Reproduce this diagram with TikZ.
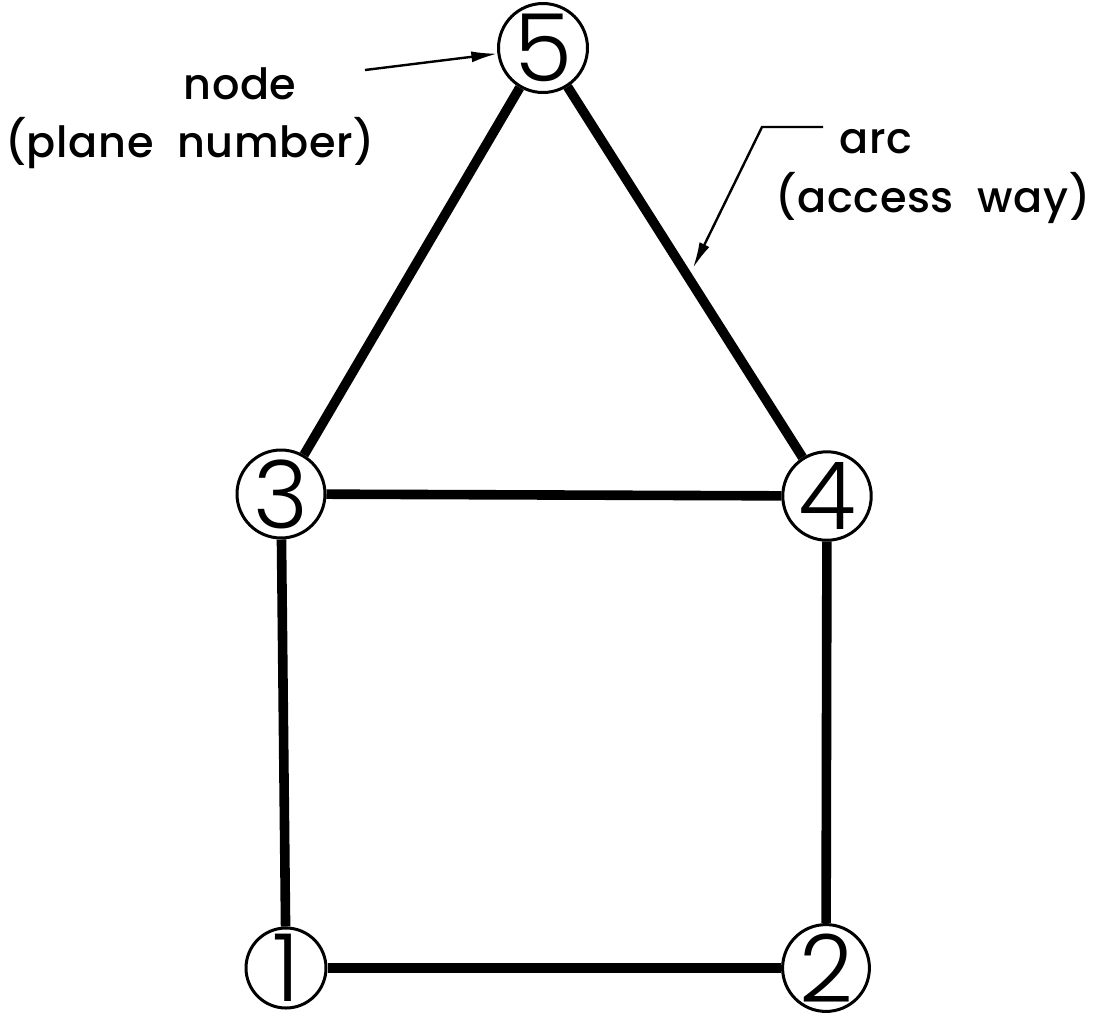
\documentclass[tikz,border=0pt]{standalone}
\usepackage{fontspec}
\setmainfont{Poppins}
\newfontfamily\labelfont{Poppins Medium}[LetterSpace=1.5]
\newfontfamily\digitfont{Poppins Light}
\usetikzlibrary{arrows.meta}
\begin{document}
\begin{tikzpicture}[x=0.5pt, y=-0.5pt,
  plane/.style={circle, draw, line width=1.5pt, minimum size=40pt, inner sep=0pt,
    font=\digitfont\fontsize{47}{47}\selectfont},
  way/.style={line width=4.8pt},
  label/.style={font=\labelfont\fontsize{21.5}{21.5}\selectfont, anchor=base},
  leader/.style={line width=1.2pt, -{Latex[length=13pt,width=5.5pt]}}]
  \useasboundingbox (0,0) rectangle (1119,1019);

  % planes
  \node[plane] (n5) at (543,48)  {5};
  \node[plane] (n3) at (281,494) {3};
  \node[plane] (n4) at (827,496) {4};
  \node[plane] (n1) at (286,968) {1};
  \node[plane] (n2) at (826,968) {2};

  % access ways
  \draw[way] (n5) -- (n3);
  \draw[way] (n5) -- (n4);
  \draw[way] (n3) -- (n4);
  \draw[way] (n3) -- (n1);
  \draw[way] (n4) -- (n2);
  \draw[way] (n1) -- (n2);

  % labels
  \node[label] (t1) at (240,99)  {node};
  \node[label] (t2) at (190,157) {(plane\ \ number)};
  \node[label] (t3) at (876,153) {arc};
  \node[label] (t4) at (933,212) {(access\ \ way)};

  % leaders
  \coordinate (s1) at (365,70);
  \draw[leader] (s1) -- (n5);
  \coordinate (s2) at (823,127);
  \coordinate (k2) at (762,127);
  \coordinate (e2) at (693,268);
  \draw[leader] (s2) -- (k2) -- (e2);
\end{tikzpicture}
\end{document}
